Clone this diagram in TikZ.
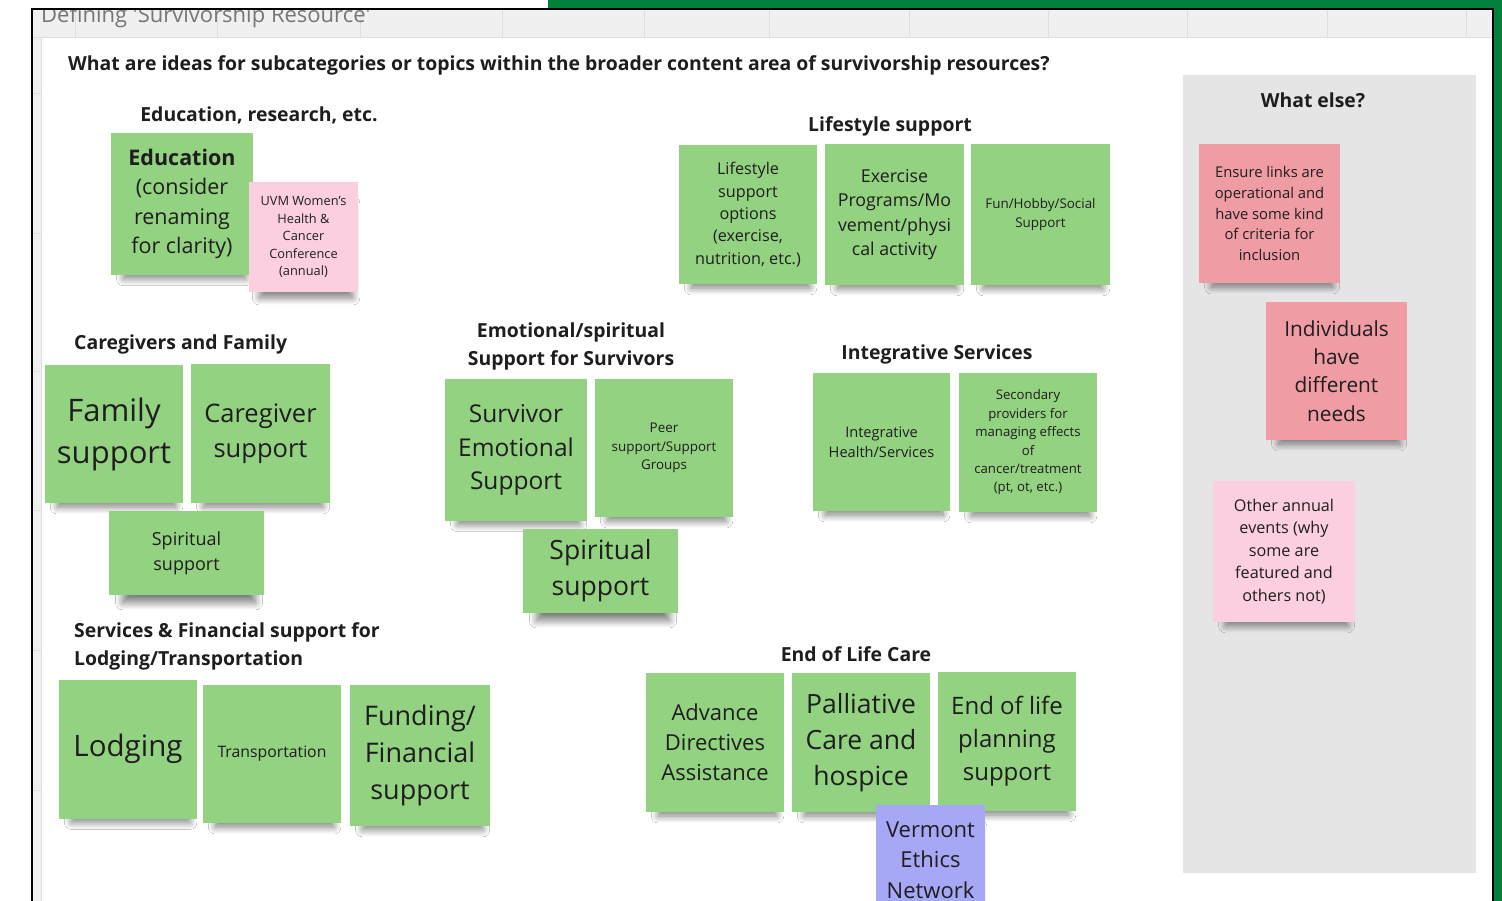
\documentclass[tikz,border=0pt]{standalone}
\usepackage{fontspec}
\setmainfont{Open Sans}
\usetikzlibrary{shadows.blur}

\definecolor{notegreen}{RGB}{147,210,128}
\definecolor{notepink}{RGB}{252,207,224}
\definecolor{notered}{RGB}{239,156,164}
\definecolor{noteblue}{RGB}{166,168,246}
\definecolor{framegreen}{RGB}{0,128,58}
\definecolor{panelgray}{RGB}{229,229,229}
\definecolor{headgray}{RGB}{240,240,240}
\definecolor{gridgray}{RGB}{222,222,222}
\definecolor{inkdark}{RGB}{30,30,30}

\begin{document}
\begin{tikzpicture}[x=1pt, y=-1pt,
    note/.style={rectangle, inner sep=0pt, align=center, text=inkdark,
      blur shadow={shadow xshift=3pt, shadow yshift=-16pt, shadow scale=0.86,
        shadow opacity=50, shadow blur steps=16, shadow blur radius=8pt}},
    greennote/.style={note, fill=notegreen},
    pinknote/.style={note, fill=notepink},
    rednote/.style={note, fill=notered},
    bluenote/.style={note, fill=noteblue},
    sz/.style 2 args={minimum width=#1pt, minimum height=#2pt},
    fs/.style 2 args={font=\fontsize{#1}{#2}\selectfont},
    heading/.style={font=\fontsize{19.4}{28}\selectfont\bfseries, text=inkdark,
      inner sep=0pt, align=center}]
    \useasboundingbox (0,0) rectangle (1502,901);
    \fill[white] (0,0) rectangle (1502,901);

    % board frame
    \fill[framegreen] (548,0) rectangle (1502,9);
    \fill[framegreen] (1493,0) rectangle (1502,901);
    \fill[headgray] (33,10) rectangle (1492,37);
    \fill[headgray] (33,37) rectangle (41,901);
    \draw[gridgray] (33,37) -- (1492,37);
    \draw[gridgray] (41,37) -- (41,901);
    \foreach \gx in {75,217,360,502,644,769,909,1048,1187,1327,1466}
      \draw[gridgray] (\gx,10) -- (\gx,37);
    \foreach \gy in {93,233,371,510,650,790}
      \draw[gridgray] (33,\gy) -- (41,\gy);
    \begin{scope}
      \clip (33,10) rectangle (1492,37);
      \node[anchor=base west, inner sep=0pt, text={rgb,255:red,118;green,118;blue,118},
        font=\fontsize{22}{26}\selectfont] at (41,23) (title)
        {Defining \textquotesingle Survivorship Resource\textquotesingle};
    \end{scope}
    \draw[line width=2pt] (32,901) -- (32,9.5) -- (1492.5,9.5) -- (1492.5,901);

    \node[heading, anchor=west] at (68,65) (question)
      {What are ideas for subcategories or topics within the broader content area of survivorship resources?};

    % what else panel
    \fill[panelgray] (1183,75) rectangle (1476,873);
    \node[heading] at (1313,100) (whatelse) {What else?};

    % education
    \node[heading] at (259,115) (eduhead) {Education, research, etc.};
    \node[greennote, sz={142}{142}, fs={21.5}{29.5}] at (182,204) (edu)
      {\textbf{Education}\\(consider\\renaming\\for clarity)};
    \node[pinknote, sz={109}{110}, fs={12.8}{17.5}] at (303.5,237) (uvm)
      {UVM Women's\\Health \&\\Cancer\\Conference\\(annual)};

    % lifestyle
    \node[heading] at (890,126) (lifehead) {Lifestyle support};
    \node[greennote, sz={138}{139}, fs={16.2}{22.3}] at (748,214.5) (life)
      {Lifestyle\\support\\options\\(exercise,\\nutrition, etc.)};
    \node[greennote, sz={139}{141}, fs={17.8}{24.3}] at (894.5,214.5) (exer)
      {Exercise\\Programs/Mo\\vement/physi\\cal activity};
    \node[greennote, sz={139}{141}, fs={13.4}{19}] at (1040.5,214.5) (fun)
      {Fun/Hobby/Social\\Support};

    % caregivers
    \node[heading, anchor=west] at (74,344) (carehead) {Caregivers and Family};
    \node[greennote, sz={138}{138}, fs={31}{42}] at (114,434) (fam)
      {Family\\support};
    \node[greennote, sz={139}{139}, fs={25.5}{35}] at (260.5,433.5) (care)
      {Caregiver\\support};
    \node[greennote, sz={155}{84}, fs={18}{25}] at (186.5,553) (spirA)
      {Spiritual\\support};

    % emotional
    \node[heading] at (571,346) (emohead) {Emotional/spiritual\\Support for Survivors};
    \node[greennote, sz={142}{142}, fs={24.5}{33.5}] at (516,450) (surv)
      {Survivor\\Emotional\\Support};
    \node[greennote, sz={138}{138}, fs={13.4}{18.5}] at (664,448) (peer)
      {Peer\\support/Support\\Groups};
    \node[greennote, sz={155}{84}, fs={26.5}{36}] at (600.5,571) (spirB)
      {Spiritual\\support};

    % integrative
    \node[heading] at (937,354) (integhead) {Integrative Services};
    \node[greennote, sz={137}{138}, fs={14.6}{20}] at (881.5,442) (integ)
      {Integrative\\Health/Services};
    \node[greennote, sz={138}{139}, fs={13.2}{18.4}] at (1028,442.5) (second)
      {Secondary\\providers for\\managing effects\\of\\cancer/treatment\\(pt, ot, etc.)};

    % services and financial
    \node[heading, anchor=west, align=left] at (74,646) (servhead)
      {Services \& Financial support for\\Lodging/Transportation};
    \node[greennote, sz={138}{139}, fs={29.5}{40}] at (128,749) (lodg)
      {Lodging};
    \node[greennote, sz={138}{138}, fs={15.8}{21}] at (272,754) (trans)
      {Transportation};
    \node[greennote, sz={140}{141}, fs={27}{37}] at (420,755.5) (fund)
      {Funding/\\Financial\\support};

    % end of life
    \node[heading] at (856,654) (eolhead) {End of Life Care};
    \node[greennote, sz={138}{139}, fs={22}{30}] at (715,742.5) (adv)
      {Advance\\Directives\\Assistance};
    \node[greennote, sz={138}{139}, fs={26.5}{36}] at (861,742.5) (pall)
      {Palliative\\Care and\\hospice};
    \node[greennote, sz={138}{139}, fs={24}{33}] at (1007,741.5) (eol)
      {End of life\\planning\\support};
    \node[bluenote, sz={109}{110}, fs={22}{30.5}] at (930.5,860) (verm)
      {Vermont\\Ethics\\Network};

    % what else notes
    \node[rednote, sz={141}{139}, fs={14.8}{20.7}] at (1269.5,213.5) (ensure)
      {Ensure links are\\operational and\\have some kind\\of criteria for\\inclusion};
    \node[rednote, sz={141}{138}, fs={20.8}{28.3}] at (1336.5,371) (indiv)
      {Individuals\\have\\different\\needs};
    \node[pinknote, sz={142}{141}, fs={16.2}{22.5}] at (1284,551.5) (other)
      {Other annual\\events (why\\some are\\featured and\\others not)};
\end{tikzpicture}
\end{document}
